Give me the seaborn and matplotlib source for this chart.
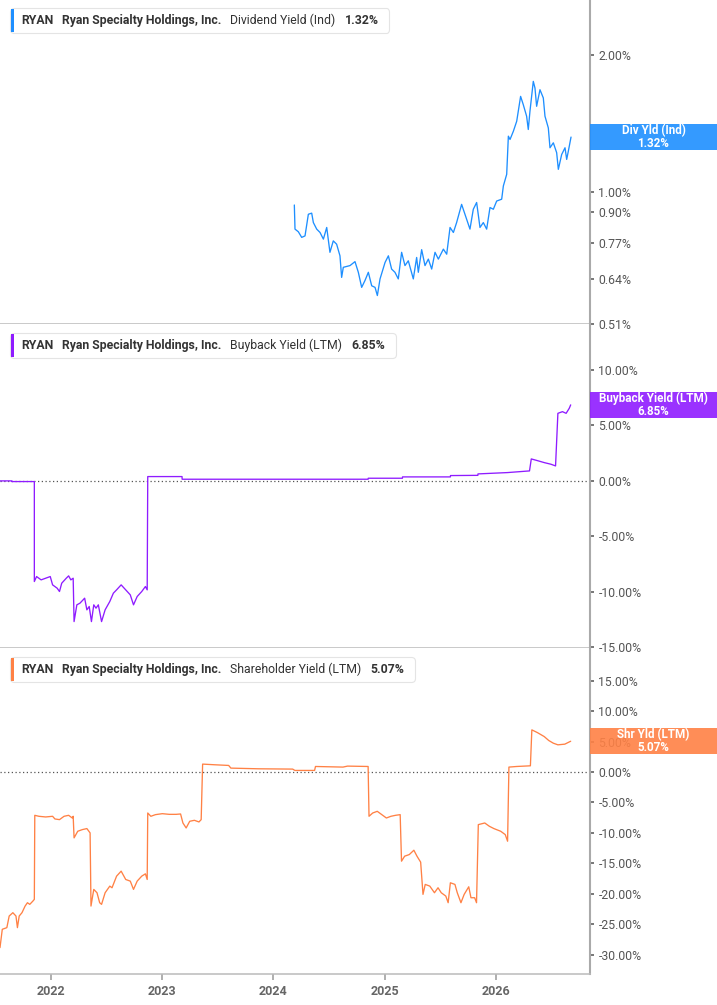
import numpy as np
import pandas as pd
import matplotlib
matplotlib.use("Agg")
import matplotlib.pyplot as plt
import seaborn as sns
from matplotlib.patches import Rectangle
from matplotlib.offsetbox import TextArea, HPacker, AnchoredOffsetbox, DrawingArea
from matplotlib.ticker import NullLocator, FixedLocator, FixedFormatter

# ---------------- data ----------------
TICKER = "RYAN"
COMPANY = "Ryan Specialty Holdings, Inc."

div_years = [2024.189, 2024.195, 2024.225, 2024.255, 2024.285, 2024.315, 2024.345, 2024.360,
             2024.390, 2024.420, 2024.450, 2024.480, 2024.509, 2024.539, 2024.569, 2024.599,
             2024.614, 2024.629, 2024.689, 2024.734, 2024.764, 2024.794, 2024.824, 2024.854,
             2024.884, 2024.914, 2024.935, 2024.959, 2025.004, 2025.034, 2025.063, 2025.093,
             2025.123, 2025.153, 2025.183, 2025.213, 2025.258, 2025.288, 2025.303, 2025.333,
             2025.363, 2025.393, 2025.423, 2025.453, 2025.483, 2025.528, 2025.558, 2025.588,
             2025.618, 2025.647, 2025.692, 2025.722, 2025.767, 2025.797, 2025.827, 2025.857,
             2025.887, 2025.917, 2025.947, 2025.977, 2026.007, 2026.052, 2026.067, 2026.097,
             2026.112, 2026.127, 2026.157, 2026.187, 2026.222, 2026.246, 2026.276, 2026.291,
             2026.306, 2026.336, 2026.351, 2026.366, 2026.396, 2026.426, 2026.441, 2026.471,
             2026.486, 2026.516, 2026.546, 2026.561, 2026.591, 2026.621, 2026.636, 2026.651,
             2026.675]
div_vals = [0.934, 0.826, 0.815, 0.792, 0.798, 0.891, 0.896, 0.854,
            0.826, 0.812, 0.785, 0.833, 0.734, 0.778, 0.765, 0.721,
            0.646, 0.680, 0.686, 0.700, 0.663, 0.614, 0.636, 0.663,
            0.619, 0.614, 0.589, 0.641, 0.697, 0.721, 0.674, 0.663,
            0.641, 0.734, 0.686, 0.703, 0.641, 0.715, 0.663, 0.744,
            0.686, 0.709, 0.674, 0.734, 0.709, 0.746, 0.727, 0.833,
            0.812, 0.854, 0.937, 0.891, 0.826, 0.914, 0.946, 0.833,
            0.854, 0.826, 0.922, 0.914, 0.953, 0.962, 1.029, 1.092,
            1.326, 1.304, 1.360, 1.431, 1.624, 1.557, 1.468, 1.372,
            1.505, 1.753, 1.695, 1.544, 1.680, 1.611, 1.468, 1.383,
            1.250, 1.282, 1.219, 1.120, 1.208, 1.250, 1.178, 1.229,
            1.320]

bb_years = [2021.5445, 2021.650, 2021.651, 2021.853, 2021.853, 2021.873, 2021.914, 2021.955,
            2021.996, 2022.017, 2022.058, 2022.079, 2022.099, 2022.140, 2022.161, 2022.181,
            2022.202, 2022.210, 2022.235, 2022.263, 2022.305, 2022.325, 2022.346, 2022.366,
            2022.387, 2022.407, 2022.428, 2022.457, 2022.489, 2022.531, 2022.563, 2022.592,
            2022.633, 2022.674, 2022.715, 2022.744, 2022.777, 2022.818, 2022.851, 2022.867,
            2022.872, 2023.180, 2023.181, 2024.852, 2024.853, 2025.160, 2025.161, 2025.591,
            2025.592, 2025.838, 2025.839, 2026.105, 2026.302, 2026.318, 2026.372, 2026.434,
            2026.495, 2026.536, 2026.557, 2026.598, 2026.631, 2026.659, 2026.672]
bb_vals = [0.00, 0.00, -0.06, -0.06, -9.07, -8.62, -8.92, -8.77,
           -8.62, -9.37, -9.67, -9.97, -9.22, -8.77, -8.56, -8.92,
           -8.77, -12.68, -11.17, -11.02, -10.57, -11.62, -11.32, -12.68,
           -11.17, -11.47, -11.17, -12.68, -11.62, -10.87, -10.12, -9.82,
           -9.37, -9.82, -10.27, -11.17, -10.42, -9.97, -9.52, -9.82,
           0.39, 0.39, 0.15, 0.15, 0.24, 0.24, 0.36, 0.36,
           0.48, 0.50, 0.63, 0.75, 0.90, 1.98, 1.83, 1.65,
           1.50, 1.35, 6.09, 6.24, 6.09, 6.54, 6.85]

shr_years = [2021.5445, 2021.565, 2021.606, 2021.627, 2021.660, 2021.688, 2021.701, 2021.717,
             2021.742, 2021.770, 2021.791, 2021.812, 2021.840, 2021.853, 2021.857, 2021.894,
             2021.955, 2022.017, 2022.038, 2022.079, 2022.120, 2022.161, 2022.194, 2022.202,
             2022.210, 2022.243, 2022.284, 2022.325, 2022.354, 2022.362, 2022.387, 2022.416,
             2022.440, 2022.457, 2022.489, 2022.531, 2022.551, 2022.592, 2022.633, 2022.674,
             2022.715, 2022.744, 2022.777, 2022.818, 2022.851, 2022.867, 2022.872, 2022.900,
             2022.941, 2023.003, 2023.065, 2023.126, 2023.167, 2023.188, 2023.217, 2023.249,
             2023.291, 2023.332, 2023.352, 2023.365, 2023.475, 2023.599, 2023.619, 2023.866,
             2024.174, 2024.194, 2024.371, 2024.379, 2024.626, 2024.667, 2024.852, 2024.860,
             2024.893, 2024.934, 2024.975, 2025.016, 2025.057, 2025.098, 2025.140, 2025.152,
             2025.180, 2025.222, 2025.263, 2025.291, 2025.324, 2025.345, 2025.365, 2025.406,
             2025.448, 2025.480, 2025.509, 2025.550, 2025.571, 2025.591, 2025.632, 2025.653,
             2025.686, 2025.715, 2025.756, 2025.776, 2025.809, 2025.826, 2025.842, 2025.900,
             2025.941, 2025.982, 2026.043, 2026.084, 2026.105, 2026.117, 2026.187, 2026.310,
             2026.323, 2026.372, 2026.434, 2026.475, 2026.516, 2026.557, 2026.619, 2026.672]
shr_vals = [-28.86, -25.85, -25.58, -23.67, -23.12, -23.67, -25.58, -23.67,
            -23.12, -22.03, -21.48, -21.75, -21.21, -20.93, -7.11, -7.27,
            -7.38, -7.27, -7.71, -7.82, -7.27, -7.11, -7.55, -7.27,
            -10.82, -9.73, -9.46, -9.29, -10.00, -22.03, -19.29, -19.84,
            -21.48, -21.75, -19.84, -18.75, -19.02, -17.11, -16.29, -17.66,
            -17.93, -19.29, -17.93, -17.11, -16.73, -17.66, -6.73, -7.27,
            -7.00, -6.84, -6.95, -6.95, -6.89, -8.37, -9.19, -8.09,
            -7.93, -8.20, -7.82, 1.31, 1.20, 1.09, 0.65, 0.54,
            0.49, 0.27, 0.27, 0.92, 0.82, 0.98, 0.92, -7.27,
            -6.73, -6.45, -7.00, -7.55, -7.27, -7.11, -7.00, -14.65,
            -13.83, -13.56, -12.85, -13.83, -14.81, -20.11, -18.47, -18.75,
            -19.84, -19.02, -19.84, -20.39, -21.48, -18.20, -18.47, -19.84,
            -21.48, -20.11, -18.86, -20.66, -20.66, -21.48, -8.64, -8.37,
            -8.91, -9.29, -9.73, -10.28, -11.37, 0.82, 0.92, 1.03,
            6.94, 6.50, 5.84, 5.19, 4.75, 4.48, 4.59, 5.07]

year_ticks = [2022, 2023, 2024, 2025, 2026]
year_labels = ["2022", "2023", "2024", "2025", "2026"]
div_ticks = [0.51, 0.64, 0.77, 0.90, 1.00, 2.00]
bb_ticks = [-15, -10, -5, 0, 5, 10]
shr_ticks = [-30, -25, -20, -15, -10, -5, 0, 5, 10, 15]

panels = [
    dict(years=div_years, vals=div_vals, color="#1e8fff", metric="Dividend Yield (Ind)",
         tag="Div Yld (Ind)", value="1.32%", ticks=div_ticks, log=True, ylim=(0.5095, 2.653),
         px=(0, 324)),
    dict(years=bb_years, vals=bb_vals, color="#8f1cff", metric="Buyback Yield (LTM)",
         tag="Buyback Yield (LTM)", value="6.85%", ticks=bb_ticks, log=False, ylim=(-15.06, 14.14),
         px=(324, 648)),
    dict(years=shr_years, vals=shr_vals, color="#ff8145", metric="Shareholder Yield (LTM)",
         tag="Shr Yld (LTM)", value="5.07%", ticks=shr_ticks, log=False, ylim=(-33.2, 20.4),
         px=(648, 974)),
]

# ---------------- style ----------------
sns.set_theme(style="white")
FONT = ["Roboto", "DejaVu Sans"]
plt.rcParams["font.family"] = FONT

W, H = 717, 1005
fig = plt.figure(figsize=(W / 100, H / 100), dpi=100)
fig.patch.set_facecolor("white")

XLIM = (2021.5445, 2026.8455)
AX_RIGHT = 590

axes = []
for i, p in enumerate(panels):
    top, bot = p["px"]
    ax = fig.add_axes([0, 1 - bot / H, AX_RIGHT / W, (bot - top) / H])
    axes.append(ax)
    df = pd.DataFrame({"year": p["years"], "val": p["vals"]})
    sns.lineplot(data=df, x="year", y="val", ax=ax, color=p["color"], lw=0.95,
                 estimator=None, sort=False, zorder=3)
    if p["log"]:
        ax.set_yscale("log")
    ax.set_xlim(*XLIM)
    ax.set_ylim(*p["ylim"])
    ax.yaxis.set_major_locator(FixedLocator(p["ticks"]))
    ax.yaxis.set_major_formatter(FixedFormatter([f"{t:.2f}%" for t in p["ticks"]]))
    ax.yaxis.set_minor_locator(NullLocator())
    ax.yaxis.tick_right()
    ax.tick_params(axis="y", which="major", direction="out", length=3, width=1.4,
                   color="#777777", labelsize=8.8, labelcolor="#555555", pad=3,
                   left=False, right=True, labelleft=False, labelright=True)
    ax.set_xlabel("")
    ax.set_ylabel("")
    for s in ["top", "left"]:
        ax.spines[s].set_visible(False)
    ax.spines["right"].set_color("#aaaaaa")
    ax.spines["right"].set_linewidth(1.5)
    ax.spines["bottom"].set_color("#bbbbbb")
    ax.spines["bottom"].set_linewidth(1.1)
    ax.set_facecolor("white")
    if not p["log"]:
        ax.axhline(0, color="#555555", lw=0.9, ls=(0, (1, 2)), zorder=2)
    if i < 2:
        ax.set_xticks([])
    else:
        ax.set_xticks(year_ticks)
        ax.set_xticklabels(year_labels)
        ax.tick_params(axis="x", direction="out", length=4, width=1.1, color="#999999",
                       labelsize=9, labelcolor="#666666", pad=4, bottom=True)
        for lab in ax.get_xticklabels():
            lab.set_fontweight("bold")
    ax.grid(False)

    # legend box
    props_b = dict(color="#333333", fontsize=8.8, fontweight="bold", family=FONT)
    props_r = dict(color="#333333", fontsize=8.8, fontweight="normal", family=FONT)
    texts = HPacker(children=[TextArea(TICKER, textprops=props_b),
                              TextArea(COMPANY, textprops=props_b),
                              TextArea(p["metric"], textprops=props_r),
                              TextArea(p["value"], textprops=props_b)],
                    sep=6.3, pad=0, align="baseline")
    bar = DrawingArea(2.3, 16.8)
    bar.add_artist(Rectangle((0, 0), 2.3, 16.8, fc=p["color"], ec="none"))
    spacer = DrawingArea(2.0, 1)
    pack = HPacker(children=[bar, texts, spacer], sep=5.3, pad=0, align="center")
    leg_top = top + (8 if i == 0 else 9)
    ab = AnchoredOffsetbox(loc="upper left", child=pack, pad=0.05, borderpad=0, frameon=True,
                           bbox_to_anchor=(10 / W, 1 - leg_top / H),
                           bbox_transform=fig.transFigure)
    ab.patch.set_boxstyle("round,pad=0,rounding_size=0.25")
    ab.patch.set_edgecolor("#e4e4e4")
    ab.patch.set_linewidth(0.8)
    ab.patch.set_facecolor("white")
    ab.set_zorder(10)
    fig.add_artist(ab)

# value tags on the right axis
fig.canvas.draw()
for ax, p in zip(axes, panels):
    last_x, last_y = p["years"][-1], p["vals"][-1]
    disp_y = ax.transData.transform((last_x, last_y))[1]
    fy = disp_y / (H)
    h = 26 / H
    rect = Rectangle((AX_RIGHT / W, fy - h / 2), (W - AX_RIGHT) / W, h,
                     transform=fig.transFigure, fc=p["color"], ec="none", alpha=0.9,
                     zorder=20, clip_on=False)
    fig.add_artist(rect)
    fig.text((AX_RIGHT + (W - AX_RIGHT) / 2) / W, fy, f"{p['tag']}\n{p['value']}",
             ha="center", va="center", color="white", fontsize=8.4, fontweight="bold",
             linespacing=1.0, family=FONT, zorder=21)

fig.savefig("out.png", dpi=100, facecolor="white")
